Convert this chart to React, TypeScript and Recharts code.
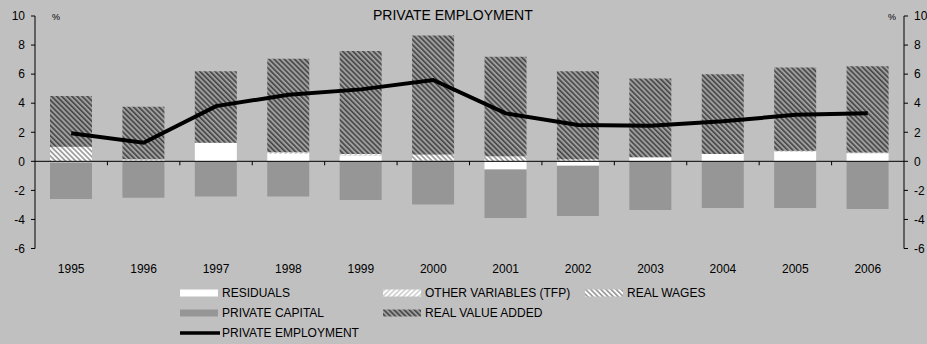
import React from 'react';
import { ComposedChart, Bar, Line, XAxis, YAxis, ReferenceLine } from 'recharts';

const years = ['1995', '1996', '1997', '1998', '1999', '2000', '2001', '2002', '2003', '2004', '2005', '2006'];
const residuals = [0, 0, 1.28, 0.5, 0.4, 0, -0.57, -0.3, 0.28, 0.5, 0.65, 0.55];
const otherVariablesTfp = [-0.08, 0.15, 0, 0.12, 0.1, 0.05, 0, 0.05, 0, 0, 0.08, 0.05];
const realWages = [1.0, 0, 0, 0, 0, 0.42, 0.35, 0.1, 0, 0, 0, 0];
const realValueAdded = [3.5, 3.6, 4.92, 6.43, 7.1, 8.18, 6.85, 6.05, 5.42, 5.5, 5.72, 5.95];
const privateCapital = [-2.52, -2.5, -2.43, -2.43, -2.66, -2.98, -3.33, -3.46, -3.35, -3.21, -3.21, -3.28];
const privateEmployment = [1.93, 1.28, 3.8, 4.58, 4.95, 5.6, 3.3, 2.5, 2.45, 2.75, 3.2, 3.3];
const yTicks = [-6, -4, -2, 0, 2, 4, 6, 8, 10];

const data = years.map((year, i) => ({
  year,
  residuals: residuals[i],
  tfp: otherVariablesTfp[i],
  wages: realWages[i],
  va: realValueAdded[i],
  capital: privateCapital[i],
  employment: privateEmployment[i],
}));

const FONT = '"Liberation Sans", Arial, sans-serif';
const BG = '#c0c0c0';

const Patterns = () => (
  <svg width={0} height={0} style={{ position: 'absolute' }}>
    <defs>
      <pattern id="patVA" width={3.6} height={10} patternUnits="userSpaceOnUse" patternTransform="rotate(-45)">
        <rect x={0} y={0} width={3.6} height={10} fill="#9e9e9e" />
        <rect x={0} y={0} width={1.6} height={10} fill="#454545" />
      </pattern>
      <pattern id="patWages" width={3.6} height={10} patternUnits="userSpaceOnUse" patternTransform="rotate(-45)">
        <rect x={0} y={0} width={3.6} height={10} fill="#ffffff" />
        <rect x={0} y={0} width={1.8} height={10} fill="#a0a0a0" />
      </pattern>
      <pattern id="patTfp" width={3.6} height={10} patternUnits="userSpaceOnUse" patternTransform="rotate(45)">
        <rect x={0} y={0} width={3.6} height={10} fill="#ffffff" />
        <rect x={0} y={0} width={1.6} height={10} fill="#cfcfcf" />
      </pattern>
    </defs>
  </svg>
);

const ZeroAxis = (p: any) => {
  const { x1, x2, y1 } = p;
  const n = years.length;
  const ticks = [];
  for (let i = 1; i < n; i++) {
    const x = x1 + ((x2 - x1) * i) / n;
    ticks.push(<line key={i} x1={x} x2={x} y1={y1} y2={y1 + 4} stroke="#000" strokeWidth={1} />);
  }
  return (
    <g>
      <line x1={x1} x2={x2} y1={y1} y2={y1} stroke="#000" strokeWidth={1} />
      {ticks}
    </g>
  );
};

const legendItems = [
  { label: 'RESIDUALS', kind: 'rect', fill: '#ffffff', col: 0, row: 0 },
  { label: 'OTHER VARIABLES (TFP)', kind: 'rect', fill: 'url(#patTfp)', col: 1, row: 0 },
  { label: 'REAL WAGES', kind: 'rect', fill: 'url(#patWages)', col: 2, row: 0 },
  { label: 'PRIVATE CAPITAL', kind: 'rect', fill: '#969696', col: 0, row: 1 },
  { label: 'REAL VALUE ADDED', kind: 'rect', fill: 'url(#patVA)', col: 1, row: 1 },
  { label: 'PRIVATE EMPLOYMENT', kind: 'line', fill: '#000', col: 0, row: 2 },
];
const colX = [180, 383, 585];

export default function App() {
  return (
    <div style={{ position: 'fixed', left: 0, top: 0, width: 927, height: 344, background: BG, fontFamily: FONT }}>
      <Patterns />
      <ComposedChart
        width={927}
        height={344}
        data={data}
        stackOffset="sign"
        margin={{ top: 16, right: 0, left: 0, bottom: 75.5 }}
        barSize={42}
      >
        <XAxis
          dataKey="year"
          axisLine={false}
          tickLine={false}
          tickSize={0}
          tickMargin={16}
          height={20}
          interval={0}
          tick={{ fill: '#000', fontSize: 12, fontFamily: FONT }}
        />
        <YAxis
          yAxisId="left"
          domain={[-6, 10]}
          ticks={yTicks}
          width={35}
          interval={0}
          allowDataOverflow
          axisLine={{ stroke: '#000' }}
          tickLine={{ stroke: '#000' }}
          tickSize={4}
          tickMargin={6}
          tick={{ fill: '#000', fontSize: 12, fontFamily: FONT }}
        />
        <YAxis
          yAxisId="right"
          orientation="right"
          domain={[-6, 10]}
          ticks={yTicks}
          width={23}
          interval={0}
          allowDataOverflow
          axisLine={{ stroke: '#000' }}
          tickLine={{ stroke: '#000' }}
          tickSize={4}
          tickMargin={6}
          tick={{ fill: '#000', fontSize: 12, fontFamily: FONT }}
        />
        <Bar yAxisId="left" dataKey="residuals" stackId="s" fill="#ffffff" isAnimationActive={false} />
        <Bar yAxisId="left" dataKey="tfp" stackId="s" fill="url(#patTfp)" isAnimationActive={false} />
        <Bar yAxisId="left" dataKey="wages" stackId="s" fill="url(#patWages)" isAnimationActive={false} />
        <Bar yAxisId="left" dataKey="va" stackId="s" fill="url(#patVA)" isAnimationActive={false} />
        <Bar yAxisId="left" dataKey="capital" stackId="s" fill="#969696" isAnimationActive={false} />
        <ReferenceLine yAxisId="left" y={0} shape={ZeroAxis} />
        <Line
          yAxisId="right"
          dataKey="employment"
          type="linear"
          stroke="#000"
          strokeWidth={4}
          dot={false}
          isAnimationActive={false}
        />
      </ComposedChart>
      <div style={{ position: 'absolute', left: 373, top: 7, fontSize: 14, color: '#000', whiteSpace: 'nowrap' }}>
        PRIVATE EMPLOYMENT
      </div>
      <div style={{ position: 'absolute', left: 52, top: 12, fontSize: 9, color: '#000' }}>%</div>
      <div style={{ position: 'absolute', left: 888, top: 12, fontSize: 9, color: '#000' }}>%</div>
      {legendItems.map((it) => (
        <div
          key={it.label}
          style={{
            position: 'absolute',
            left: colX[it.col],
            top: 285 + it.row * 20,
            height: 16,
            display: 'flex',
            alignItems: 'center',
            fontSize: 12,
            color: '#000',
            whiteSpace: 'nowrap',
          }}
        >
          <svg width={40} height={16} style={{ marginRight: 2 }}>
            {it.kind === 'rect' ? (
              <rect x={0} y={4.5} width={38} height={7} fill={it.fill} />
            ) : (
              <line x1={0} x2={40} y1={8} y2={8} stroke="#000" strokeWidth={3.5} />
            )}
          </svg>
          {it.label}
        </div>
      ))}
    </div>
  );
}
